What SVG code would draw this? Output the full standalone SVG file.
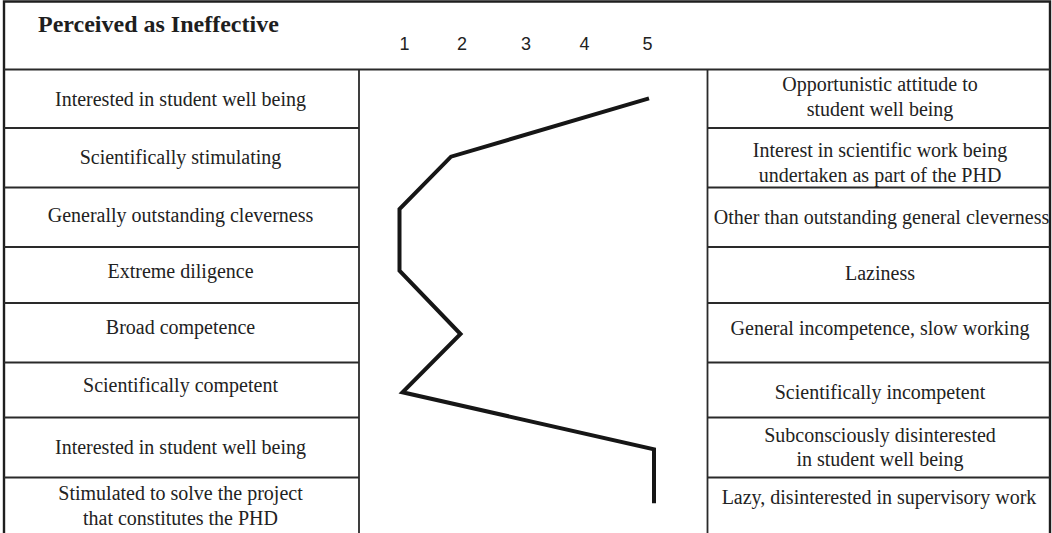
<svg xmlns="http://www.w3.org/2000/svg" width="1052" height="533" viewBox="0 0 1052 533">
<defs>
<style>
.grid{stroke:#2a2a2a;stroke-width:1.8;fill:none}
.frame{stroke:#1e1e1e;stroke-width:2.4;fill:none}
.lbl{font-family:"Liberation Serif","Times New Roman",serif;font-size:20px;fill:#222;text-anchor:middle}
.title{font-family:"Liberation Serif","Times New Roman",serif;font-size:24px;font-weight:bold;fill:#1e1e1e}
.num{font-family:"Liberation Sans",Arial,sans-serif;font-size:18px;fill:#222;text-anchor:middle}
.curve{stroke:#161616;stroke-width:4;fill:none;stroke-linejoin:miter;stroke-linecap:butt}
</style>
</defs>
<rect width="1052" height="533" fill="#ffffff"/>
<g id="grid">
<polyline class="frame" points="4,533 4,1.5 1050,1.5 1050,533"/>
<line class="grid" x1="4" y1="69.5" x2="1050" y2="69.5"/>
<line class="grid" x1="359" y1="69.5" x2="359" y2="533"/>
<line class="grid" x1="707.5" y1="69.5" x2="707.5" y2="533"/>
<path class="grid" d="M4 128H359M4 187.5H359M4 247H359M4 303H359M4 362.5H359M4 417.5H359M4 477.5H359"/>
<path class="grid" d="M707.5 128H1050M707.5 187.5H1050M707.5 247H1050M707.5 303H1050M707.5 362.5H1050M707.5 417.5H1050M707.5 477.5H1050"/>
</g>
<g id="header">
<text class="title" x="38" y="31.5">Perceived as Ineffective</text>
<text class="num" x="404.5" y="50">1</text>
<text class="num" x="462" y="50">2</text>
<text class="num" x="526" y="50">3</text>
<text class="num" x="584.5" y="50">4</text>
<text class="num" x="647.5" y="50">5</text>
</g>
<g id="left-labels">
<text class="lbl" x="180.5" y="106">Interested in student well being</text>
<text class="lbl" x="180.5" y="163.5">Scientifically stimulating</text>
<text class="lbl" x="180.5" y="221.5">Generally outstanding cleverness</text>
<text class="lbl" x="180.5" y="277.5">Extreme diligence</text>
<text class="lbl" x="180.5" y="334">Broad competence</text>
<text class="lbl" x="180.5" y="391.5">Scientifically competent</text>
<text class="lbl" x="180.5" y="453.5">Interested in student well being</text>
<text class="lbl" x="180.5" y="500">Stimulated to solve the project</text>
<text class="lbl" x="180.5" y="525">that constitutes the PHD</text>
</g>
<g id="right-labels">
<text class="lbl" x="880" y="91">Opportunistic attitude to</text>
<text class="lbl" x="880" y="115.5">student well being</text>
<text class="lbl" x="880" y="157">Interest in scientific work being</text>
<text class="lbl" x="880" y="181.5">undertaken as part of the PHD</text>
<text class="lbl" x="881.5" y="223.5">Other than outstanding general cleverness</text>
<text class="lbl" x="880" y="280">Laziness</text>
<text class="lbl" x="880" y="335">General incompetence, slow working</text>
<text class="lbl" x="880" y="398.5">Scientifically incompetent</text>
<text class="lbl" x="880" y="441.5">Subconsciously disinterested</text>
<text class="lbl" x="880" y="466">in student well being</text>
<text class="lbl" x="879" y="504">Lazy, disinterested in supervisory work</text>
</g>
<g id="connectors">
<polyline class="curve" points="649,98.3 451,156.7 399.5,209 399.5,270.7 460.5,334 402.5,392.3 654,449.3 654,503.3"/>
</g>
</svg>
